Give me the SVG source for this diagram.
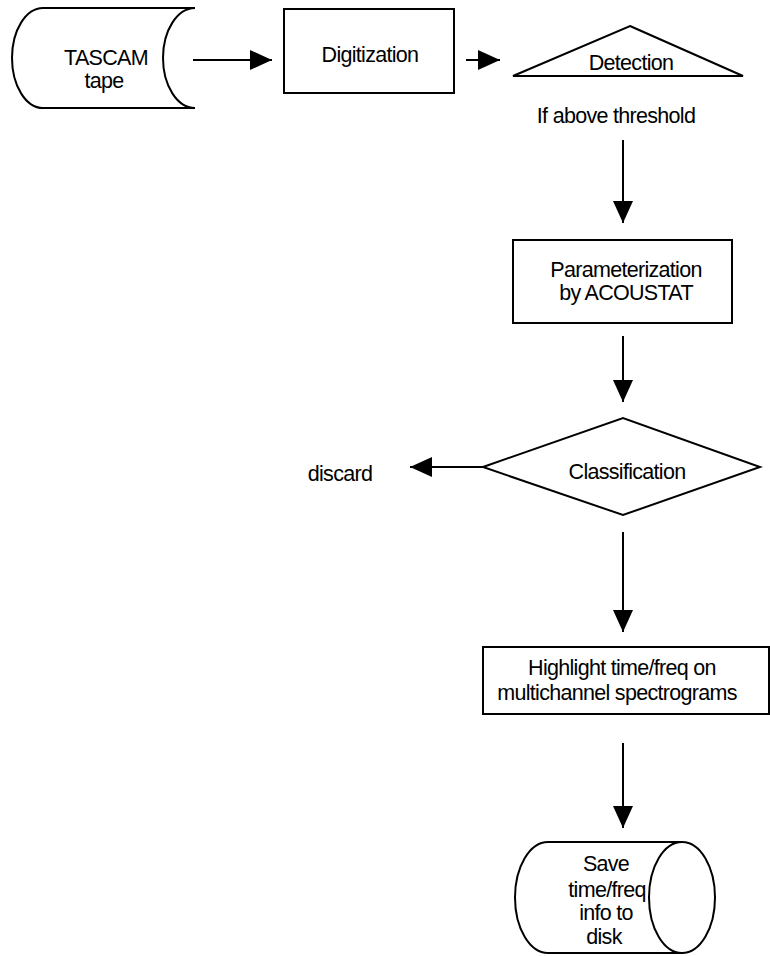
<svg xmlns="http://www.w3.org/2000/svg" width="770" height="956" viewBox="0 0 770 956">
<style>
.s{fill:#fff;stroke:#000;stroke-width:2}
.c{fill:none;stroke:#000;stroke-width:2}
text{font-family:"Liberation Sans",Arial,sans-serif;font-size:21.5px;letter-spacing:-0.7px;fill:#000;text-anchor:middle}
</style>
<defs>
<marker id="ah" viewBox="0 0 22 20" refX="22" refY="10" markerWidth="22" markerHeight="20" markerUnits="userSpaceOnUse" orient="auto">
<path d="M0,0 L22,10 L0,20 Z" fill="#000"/>
</marker>
</defs>
<rect width="770" height="956" fill="#fff"/>
<g id="connectors">
<line class="c" x1="193" y1="60" x2="272" y2="60" marker-end="url(#ah)"/>
<line class="c" x1="466" y1="60" x2="500" y2="60" marker-end="url(#ah)"/>
<line class="c" x1="623" y1="140" x2="623" y2="223" marker-end="url(#ah)"/>
<line class="c" x1="623" y1="336" x2="623" y2="402" marker-end="url(#ah)"/>
<line class="c" x1="483" y1="467" x2="410" y2="467" marker-end="url(#ah)"/>
<line class="c" x1="623" y1="532" x2="623" y2="632" marker-end="url(#ah)"/>
<line class="c" x1="623" y1="743" x2="623" y2="828" marker-end="url(#ah)"/>
</g>
<g id="tape">
<path class="s" d="M195,8 L43,8 A31,50 0 0 0 43,108 L195,108 A32,50 0 0 1 195,8 Z"/>
<text x="106" y="65">TASCAM</text>
<text x="104" y="88">tape</text>
</g>
<g id="digitization">
<rect class="s" x="284" y="9" width="170" height="84"/>
<text x="370" y="62">Digitization</text>
</g>
<g id="detection">
<polygon class="s" points="630,26 743,76 513,76"/>
<text x="631" y="70">Detection</text>
</g>
<g id="threshold-label">
<text x="616" y="123">If above threshold</text>
</g>
<g id="parameterization">
<rect class="s" x="513" y="240" width="219" height="83"/>
<text x="626" y="277">Parameterization</text>
<text x="626" y="300">by ACOUSTAT</text>
</g>
<g id="classification">
<polygon class="s" points="483,467 623,418 760,467 623,515"/>
<text x="627" y="479">Classification</text>
</g>
<g id="discard">
<text x="340" y="481">discard</text>
</g>
<g id="highlight">
<rect class="s" x="483" y="647" width="286" height="67"/>
<text x="622" y="675">Highlight time/freq on</text>
<text x="617" y="700">multichannel spectrograms</text>
</g>
<g id="save">
<path class="s" d="M682,842 L548,842 A33,55.5 0 0 0 548,953 L682,953"/>
<ellipse class="s" cx="682" cy="897.5" rx="33" ry="55.5"/>
<text x="606" y="871">Save</text>
<text x="607" y="897">time/freq</text>
<text x="606" y="920">info to</text>
<text x="604" y="944">disk</text>
</g>
</svg>
